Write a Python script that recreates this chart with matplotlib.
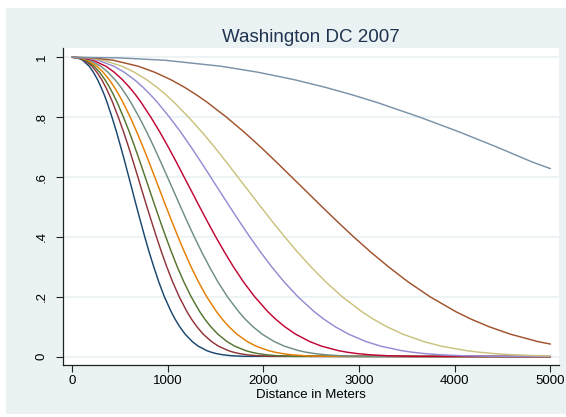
import matplotlib
matplotlib.use("Agg")
import matplotlib.pyplot as plt
from matplotlib.patches import Rectangle

# ---- data ----
# survival levels (y) and, for each curve, the distance (m) at which it reaches them
levels = [1.0, 0.998, 0.99, 0.97, 0.95, 0.925, 0.9, 0.875, 0.85, 0.8, 0.75, 0.7,
          0.65, 0.6, 0.55, 0.5, 0.45, 0.4, 0.35, 0.3, 0.25, 0.2, 0.15, 0.125,
          0.1, 0.075, 0.05, 0.035, 0.02, 0.015, 0.01, 0.006, 0.003, 0.001]

navy_d     = [0, 56, 111, 178, 222, 266, 302, 335, 364, 416, 464, 508, 551, 592, 633, 674, 716,
              759, 804, 853, 905, 964, 1035, 1076, 1124, 1181, 1256, 1318, 1407, 1451, 1508, 1578, 1665, 1793]
maroon_d   = [0, 65, 129, 207, 258, 309, 351, 388, 422, 482, 538, 590, 639, 687, 734, 782, 831,
              881, 933, 989, 1050, 1119, 1200, 1248, 1304, 1370, 1458, 1529, 1633, 1683, 1750, 1831, 1932, 2080]
green_d    = [0, 72, 143, 230, 287, 343, 390, 431, 469, 536, 598, 655, 710, 763, 816, 869, 923,
              979, 1037, 1099, 1167, 1244, 1334, 1387, 1449, 1523, 1620, 1699, 1814, 1870, 1945, 2034, 2147, 2312]
orange_d   = [0, 82, 162, 260, 324, 388, 441, 488, 530, 607, 676, 741, 803, 863, 923, 983, 1044,
              1107, 1173, 1243, 1320, 1407, 1509, 1569, 1639, 1722, 1832, 1922, 2053, 2116, 2200, 2301, 2429, 2615]
teal_d     = [0, 94, 187, 300, 374, 448, 509, 563, 612, 700, 780, 855, 926, 996, 1065, 1134, 1204,
              1277, 1353, 1435, 1523, 1623, 1741, 1810, 1890, 1987, 2114, 2218, 2368, 2441, 2538, 2655, 2802, 3016]
crimson_d  = [0, 111, 220, 353, 440, 526, 598, 662, 719, 822, 917, 1005, 1089, 1170, 1252, 1333, 1416,
              1501, 1591, 1686, 1790, 1908, 2046, 2128, 2222, 2336, 2485, 2607, 2783, 2869, 2983, 3121, 3294, 3546]
lavender_d = [0, 137, 272, 436, 544, 651, 740, 818, 890, 1017, 1135, 1243, 1347, 1448, 1548, 1649, 1751,
              1857, 1968, 2086, 2215, 2360, 2531, 2632, 2749, 2890, 3074, 3225, 3443, 3549, 3690, 3860, 4075, 4386]
khaki_d    = [0, 164, 326, 522, 651, 779, 885, 979, 1064, 1217, 1357, 1488, 1612, 1732, 1853, 1973, 2096,
              2222, 2354, 2496, 2650, 2823, 3029, 3149, 3289, 3457, 3678, 3858, 4120, 4247, 4416, 4619, 4875]
sienna_d   = [0, 217, 431, 691, 863, 1032, 1173, 1297, 1410, 1613, 1798, 1971, 2135, 2295, 2455, 2614, 2776,
              2943, 3119, 3307, 3511, 3741, 4012, 4172, 4358, 4581, 4872]
bluegray_d = [0, 489, 972, 1558, 1944, 2325, 2642, 2923, 3178, 3634, 4052, 4441, 4811]

end_distance = 5000
end_values = [0.0, 0.0, 0.0, 0.0, 0.0, 0.0, 0.0002, 0.0021, 0.042, 0.628]

series = [navy_d, maroon_d, green_d, orange_d, teal_d, crimson_d,
          lavender_d, khaki_d, sienna_d, bluegray_d]
colors = ["#1a476f", "#90353b", "#55752f", "#e37e00", "#6e8e84",
          "#c10534", "#938dd2", "#cac27e", "#a0522d", "#7b92a8"]

x_ticks = [0, 1000, 2000, 3000, 4000, 5000]
y_ticks = [0, 0.2, 0.4, 0.6, 0.8, 1.0]
y_tick_labels = ["0", ".2", ".4", ".6", ".8", "1"]

title = "Washington DC 2007"
x_label = "Distance in Meters"

# ---- drawing ----
plt.rcParams["font.family"] = ["Liberation Sans", "DejaVu Sans"]

W, H = 566, 417
fig = plt.figure(figsize=(W / 100, H / 100), dpi=100)
fig.patch.set_facecolor("white")
bg = Rectangle((6 / W, 3 / H), 1 - 6 / W, 1 - 11 / H,
               transform=fig.transFigure, facecolor="#eaf2f3",
               edgecolor="none", zorder=-10)
fig.add_artist(bg)

ax = fig.add_axes([63 / W, (H - 365) / H, (559 - 63) / W, (365 - 48) / H])
ax.set_zorder(1)
ax.set_facecolor("white")

for dists, end_v, col in zip(series, end_values, colors):
    xs = list(dists) + [end_distance]
    ys = levels[:len(dists)] + [end_v]
    ax.plot(xs, ys, color=col, lw=1.05, solid_joinstyle="round",
            solid_capstyle="round", zorder=3)

ax.set_xlim(-96, 5090)
ax.set_ylim(-0.028, 1.031)

ax.set_xticks(x_ticks)
ax.set_yticks(y_ticks)
ax.set_yticklabels(y_tick_labels, rotation=90, va="center")
ax.tick_params(axis="both", direction="out", length=5, width=0.8,
               colors="#222222", labelsize=9.5, labelcolor="black")
ax.tick_params(axis="x", pad=2.5)
ax.tick_params(axis="y", pad=6)

ax.grid(axis="y", color="#eaf2f3", lw=1.3, zorder=1)
ax.grid(axis="x", visible=False)

for s in ["top", "right"]:
    ax.spines[s].set_visible(False)
for s in ["left", "bottom"]:
    ax.spines[s].set_color("#222222")
    ax.spines[s].set_linewidth(0.9)

ax.set_xlabel(x_label, fontsize=9.5, labelpad=1, color="black")
ax.set_title(title, fontsize=13.5, color="#1f3350", pad=4)

fig.savefig("out.png", dpi=100, facecolor=fig.get_facecolor())
